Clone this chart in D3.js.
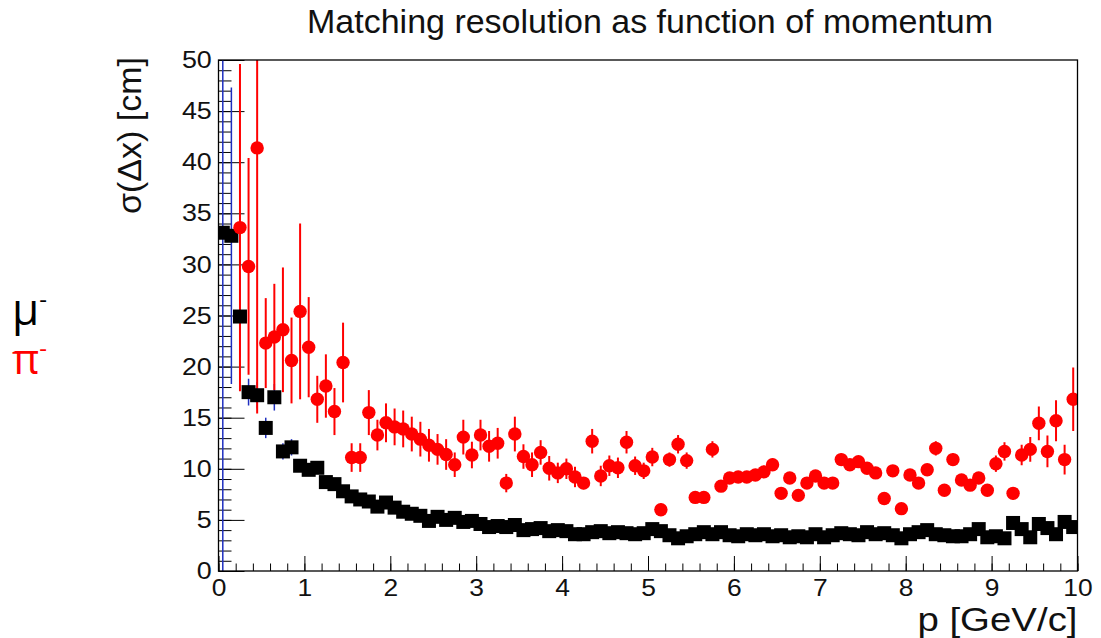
<!DOCTYPE html>
<html lang="en">
  <head>
    <title>Matching resolution</title>
    <script src="https://d3js.org/d3.v7.min.js"></script>
    <style>
      body { margin: 0; background: #fff; }
      text { font-family: "Liberation Sans", Arial, sans-serif; fill: #111; }
      .legend { font-family: "Open Sans", "Noto Sans", sans-serif; }
    </style>
    <script>
      // bin centres, p [GeV/c]
      var pBins = [0.05, 0.15, 0.25, 0.35, 0.45, 0.55, 0.65, 0.75, 0.85, 0.95,
        1.05, 1.15, 1.25, 1.35, 1.45, 1.55, 1.65, 1.75, 1.85, 1.95,
        2.05, 2.15, 2.25, 2.35, 2.45, 2.55, 2.65, 2.75, 2.85, 2.95,
        3.05, 3.15, 3.25, 3.35, 3.45, 3.55, 3.65, 3.75, 3.85, 3.95,
        4.05, 4.15, 4.25, 4.35, 4.45, 4.55, 4.65, 4.75, 4.85, 4.95,
        5.05, 5.15, 5.25, 5.35, 5.45, 5.55, 5.65, 5.75, 5.85, 5.95,
        6.05, 6.15, 6.25, 6.35, 6.45, 6.55, 6.65, 6.75, 6.85, 6.95,
        7.05, 7.15, 7.25, 7.35, 7.45, 7.55, 7.65, 7.75, 7.85, 7.95,
        8.05, 8.15, 8.25, 8.35, 8.45, 8.55, 8.65, 8.75, 8.85, 8.95,
        9.05, 9.15, 9.25, 9.35, 9.45, 9.55, 9.65, 9.75, 9.85, 9.95];

      // mu- : sigma(dx) [cm]
      var muVals = [33.1, 32.8, 24.9, 17.5, 17.2, 14.0, 17.0, 11.7, 12.1, 10.3,
        9.9, 10.1, 8.7, 8.5, 7.8, 7.3, 7.0, 6.8, 6.3, 6.7,
        6.2, 5.8, 5.6, 5.4, 4.9, 5.3, 5.0, 5.2, 4.8, 4.9,
        4.6, 4.3, 4.4, 4.3, 4.5, 4.0, 4.1, 4.2, 3.9, 4.0,
        3.9, 3.6, 3.6, 3.8, 3.9, 3.7, 3.8, 3.7, 3.6, 3.7,
        4.1, 3.9, 3.5, 3.2, 3.4, 3.6, 3.8, 3.6, 3.8, 3.5,
        3.4, 3.6, 3.5, 3.6, 3.4, 3.5, 3.3, 3.4, 3.3, 3.6,
        3.3, 3.5, 3.7, 3.6, 3.5, 3.8, 3.6, 3.7, 3.5, 3.2,
        3.6, 3.8, 4.0, 3.6, 3.5, 3.4, 3.4, 3.6, 4.1, 3.3,
        3.4, 3.2, 4.7, 4.1, 3.3, 4.6, 4.2, 3.6, 4.8, 4.3];
      var muErr = [34, 14.5, 4.0, 1.3, 1.3, 1.0, 1.3, 0.8, 0.8, 0.6,
        0.6, 0.6, 0.5, 0.5, 0.5, 0.4, 0.4, 0.4, 0.4, 0.4,
        0.4, 0.3, 0.3, 0.3, 0.3, 0.3, 0.3, 0.3, 0.3, 0.3,
        0.3, 0.3, 0.3, 0.3, 0.3, 0.3, 0.3, 0.3, 0.3, 0.3,
        0.3, 0.3, 0.3, 0.3, 0.3, 0.3, 0.3, 0.3, 0.3, 0.3,
        0.3, 0.3, 0.3, 0.3, 0.3, 0.3, 0.3, 0.3, 0.3, 0.3,
        0.3, 0.3, 0.3, 0.3, 0.3, 0.3, 0.3, 0.3, 0.3, 0.3,
        0.3, 0.3, 0.3, 0.3, 0.3, 0.3, 0.3, 0.3, 0.3, 0.3,
        0.3, 0.3, 0.3, 0.3, 0.3, 0.3, 0.3, 0.3, 0.3, 0.3,
        0.4, 0.4, 0.4, 0.4, 0.4, 0.4, 0.5, 0.5, 0.5, 0.6];

      // pi- : sigma(dx) [cm], null = empty bin
      var piVals = [null, null, 33.6, 29.8, 41.4, 22.3, 22.9, 23.6, 20.6, 25.4,
        21.9, 16.8, 18.1, 15.6, 20.4, 11.1, 11.1, 15.5, 13.3, 14.5,
        14.1, 13.9, 13.4, 12.9, 12.3, 11.9, 11.4, 10.4, 13.1, 11.35,
        13.3, 12.2, 12.5, 8.6, 13.4, 11.2, 10.4, 11.6, 10.05, 9.6,
        10.0, 9.2, 8.6, 12.7, 9.3, 10.3, 10.1, 12.6, 10.3, 9.8,
        11.15, 6.0, 10.9, 12.4, 10.8, 7.2, 7.2, 11.9, 8.3, 9.1,
        9.2, 9.2, 9.4, 9.7, 10.4, 7.6, 9.1, 7.4, 8.6, 9.3,
        8.6, 8.6, 10.9, 10.4, 10.7, 10.05, 9.6, 7.1, 9.8, 6.1,
        9.4, 8.6, 9.9, 12.0, 7.9, 10.9, 8.9, 8.4, 9.1, 7.9,
        10.5, 11.7, 7.6, 11.35, 11.9, 14.45, 11.7, 14.7, 10.9, 16.8];
      var piErr = [0, 0, 16, 10.6, 26, 4.4, 5.2, 6.1, 4.2, 8.6,
        4.9, 2.3, 3.1, 2.3, 3.9, 1.4, 1.4, 2.2, 1.5, 1.9,
        1.8, 1.8, 1.7, 1.7, 1.6, 1.5, 1.5, 1.2, 1.7, 1.3,
        1.5, 1.5, 1.5, 0.9, 1.7, 1.2, 1.2, 1.2, 1.2, 1.0,
        1.0, 1.0, 0.6, 1.2, 1.0, 1.0, 1.0, 1.1, 0.9, 0.8,
        0.9, 0.6, 0.7, 0.9, 0.8, 0.5, 0.5, 0.8, 0.5, 0.5,
        0.5, 0.5, 0.5, 0.6, 0.6, 0.5, 0.5, 0.5, 0.5, 0.5,
        0.5, 0.5, 0.6, 0.5, 0.5, 0.5, 0.5, 0.5, 0.5, 0.5,
        0.5, 0.5, 0.5, 0.7, 0.5, 0.6, 0.5, 0.5, 0.5, 0.5,
        0.8, 0.9, 0.6, 1.0, 1.2, 1.65, 1.55, 2.0, 1.45, 3.1];

      var xTicks = [0, 1, 2, 3, 4, 5, 6, 7, 8, 9, 10];
      var yTicks = [0, 5, 10, 15, 20, 25, 30, 35, 40, 45, 50];

      window.onload = () => {
        var W = 1101, H = 638,
            frame = {left: 218.5, right: 1077.5, top: 60, bottom: 571};

        var svg = d3.select("#chart").append("svg")
            .attr("width", W).attr("height", H);

        svg.append("rect").attr("width", W).attr("height", H).attr("fill", "#fff");

        var x = d3.scaleLinear().domain([0, 10]).range([frame.left, frame.right]),
            y = d3.scaleLinear().domain([0, 50]).range([frame.bottom, frame.top]);

        svg.append("defs").append("clipPath").attr("id", "clip")
          .append("rect")
            .attr("x", frame.left).attr("y", frame.top)
            .attr("width", frame.right - frame.left)
            .attr("height", frame.bottom - frame.top);

        // axes, ROOT style ticks pointing inwards
        var xMinor = d3.range(0, 10.001, 0.2);
        var yMinor = d3.range(0, 50.001, 1);

        svg.append("g")
            .attr("transform", "translate(0," + frame.bottom + ")")
            .call(d3.axisBottom(x).tickValues(xMinor).tickSizeInner(-7.5).tickSizeOuter(0).tickFormat(""))
            .call(g => g.select(".domain").remove());
        var gx = svg.append("g")
            .attr("transform", "translate(0," + frame.bottom + ")")
            .call(d3.axisBottom(x).tickValues(xTicks).tickSizeInner(-15).tickSizeOuter(0).tickPadding(8))
            .call(g => g.select(".domain").remove());
        gx.selectAll("text")
            .attr("font-size", 24).attr("font-family", null)
            .attr("transform", "scale(1.1,1)")
            .style("fill", "#111");

        svg.append("g")
            .attr("transform", "translate(" + frame.left + ",0)")
            .call(d3.axisLeft(y).tickValues(yMinor).tickSizeInner(-13).tickSizeOuter(0).tickFormat(""))
            .call(g => g.select(".domain").remove());
        var gy = svg.append("g")
            .attr("transform", "translate(" + frame.left + ",0)")
            .call(d3.axisLeft(y).tickValues(yTicks).tickSizeInner(-26).tickSizeOuter(0).tickPadding(6))
            .call(g => g.select(".domain").remove());
        gy.selectAll("text")
            .attr("font-size", 24).attr("font-family", null)
            .attr("transform", "scale(1.12,1)")
            .style("fill", "#111");

        svg.selectAll(".tick line").attr("stroke", "#000");

        var plot = svg.append("g").attr("clip-path", "url(#clip)");

        var mu = pBins.map((p, i) => ({p: p, v: muVals[i], e: muErr[i]}));
        var pi = pBins.map((p, i) => ({p: p, v: piVals[i], e: piErr[i]})).filter(d => d.v != null);

        // mu- error bars (blue)
        plot.selectAll(".muerr").data(mu).enter().append("line")
            .attr("x1", d => x(d.p)).attr("x2", d => x(d.p))
            .attr("y1", d => y(d.v - d.e)).attr("y2", d => y(d.v + d.e))
            .attr("stroke", "#1f2fbf").attr("stroke-width", 1.5);

        // pi- error bars (red)
        plot.selectAll(".pierr").data(pi).enter().append("line")
            .attr("x1", d => x(d.p)).attr("x2", d => x(d.p))
            .attr("y1", d => y(d.v - d.e)).attr("y2", d => y(d.v + d.e))
            .attr("stroke", "#ff0000").attr("stroke-width", 2);

        plot.selectAll(".musq").data(mu).enter().append("rect")
            .attr("x", d => x(d.p) - 7).attr("y", d => y(d.v) - 7)
            .attr("width", 14).attr("height", 14)
            .attr("fill", "#000");

        plot.selectAll(".pidot").data(pi).enter().append("circle")
            .attr("cx", d => x(d.p)).attr("cy", d => y(d.v))
            .attr("r", 6.7)
            .attr("fill", "#ff0000");

        // frame
        svg.append("rect")
            .attr("x", frame.left).attr("y", frame.top)
            .attr("width", frame.right - frame.left)
            .attr("height", frame.bottom - frame.top)
            .attr("fill", "none").attr("stroke", "#000").attr("stroke-width", 1.3);

        // titles
        svg.append("text")
            .attr("x", 650).attr("y", 33)
            .attr("text-anchor", "middle")
            .attr("font-size", 34)
            .text("Matching resolution as function of momentum");

        svg.append("text")
            .attr("transform", "translate(" + frame.right + ",631) scale(1.13,1)")
            .attr("text-anchor", "end")
            .attr("font-size", 34)
            .text("p [GeV/c]");

        svg.append("text")
            .attr("transform", "translate(141,57) rotate(-90)")
            .attr("text-anchor", "end")
            .attr("font-size", 34)
            .text("\u03c3(\u0394x) [cm]");

        // labels at the left
        var lab1 = svg.append("text").attr("class", "legend")
            .attr("x", 12).attr("y", 325).attr("font-size", 44).style("fill", "#000");
        lab1.append("tspan").text("\u03bc");
        lab1.append("tspan").attr("dy", -17).attr("font-size", 24).text("-");

        var lab2 = svg.append("text").attr("class", "legend")
            .attr("x", 12).attr("y", 374).attr("font-size", 42).style("fill", "#ff0000");
        lab2.append("tspan").text("\u03c0");
        lab2.append("tspan").attr("dy", -17).attr("font-size", 24).text("-");
      };
    </script>
  </head>
  <body>
    <div id="chart"></div>
  </body>
</html>
